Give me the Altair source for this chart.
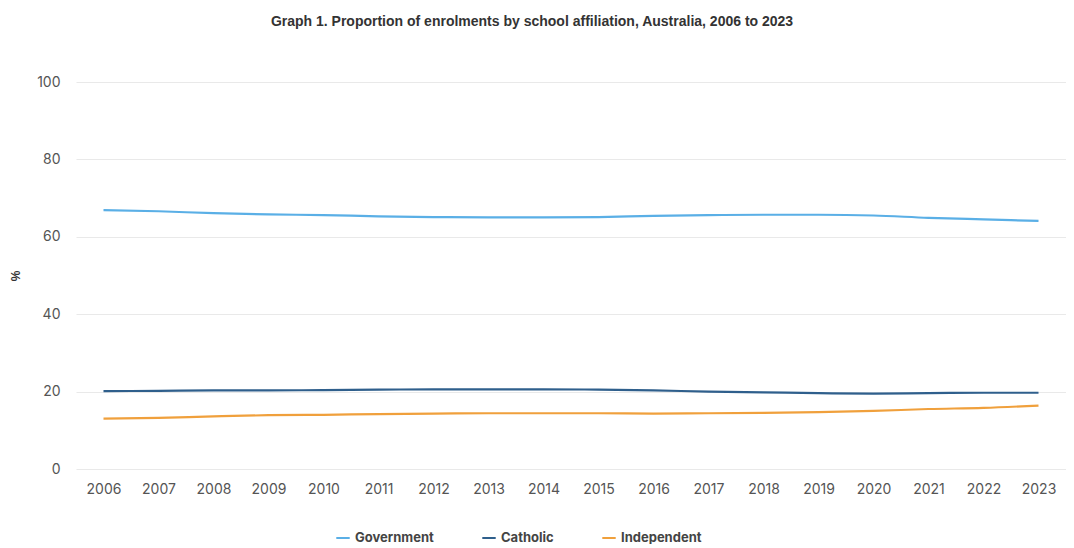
import altair as alt
import pandas as pd

years = list(range(2006, 2024))
government = [66.9, 66.6, 66.1, 65.8, 65.6, 65.3, 65.1, 65.0, 65.0, 65.1, 65.4, 65.6, 65.7, 65.7, 65.5, 64.9, 64.5, 64.1]
catholic = [20.1, 20.2, 20.3, 20.3, 20.4, 20.5, 20.6, 20.6, 20.6, 20.5, 20.3, 20.0, 19.8, 19.6, 19.5, 19.6, 19.7, 19.7]
independent = [13.0, 13.2, 13.6, 13.9, 14.0, 14.2, 14.3, 14.4, 14.4, 14.4, 14.3, 14.4, 14.5, 14.7, 15.0, 15.5, 15.8, 16.4]
series = ["Government", "Catholic", "Independent"]
colors = ["#5aafe6", "#2f5f8c", "#f0a03c"]

rows = []
for name, vals in zip(series, [government, catholic, independent]):
    for y, v in zip(years, vals):
        rows.append({"Year": str(y), "Series": name, "Value": v})
df = pd.DataFrame(rows)

chart = alt.Chart(df).mark_line(strokeWidth=2.2, interpolate="monotone").encode(
    x=alt.X("Year:O", title=None,
            scale=alt.Scale(type="point", padding=0.5),
            axis=alt.Axis(labelAngle=0, domain=False, ticks=False, grid=False,
                          labelPadding=13, labelFontSize=14, labelColor="#555",
                          labelFont="Inter")),
    y=alt.Y("Value:Q", title="%",
            scale=alt.Scale(domain=[0, 100]),
            axis=alt.Axis(values=[0, 20, 40, 60, 80, 100], domain=False, ticks=False,
                          gridColor="#e9e9e9", labelPadding=16, labelFontSize=14,
                          labelColor="#555", labelFont="Inter",
                          titleAngle=270, titleX=-54, titleFontSize=12,
                          titleFontWeight="bold", titleColor="#333")),
    color=alt.Color("Series:N", sort=series,
                    scale=alt.Scale(domain=series, range=colors),
                    legend=alt.Legend(title=None, orient="none", direction="horizontal",
                                      legendX=259, legendY=448, symbolType="stroke",
                                      symbolStrokeWidth=2, symbolSize=180,
                                      labelFontSize=13, labelFontWeight="bold",
                                      labelColor="#444", labelFont="Inter",
                                      columnPadding=44)),
).properties(
    width=990, height=387,
    title=alt.TitleParams("Graph 1. Proportion of enrolments by school affiliation, Australia, 2006 to 2023",
                          fontSize=14, font="Liberation Sans", fontWeight="bold",
                          color="#333", anchor="middle", offset=46, dx=-39),
    padding={"left": 68, "top": 74, "right": 0, "bottom": 75},
    autosize=alt.AutoSizeParams(type="none"),
).configure_view(stroke=None)

chart.save("out.html", embed_options={"renderer": "svg", "actions": False})
